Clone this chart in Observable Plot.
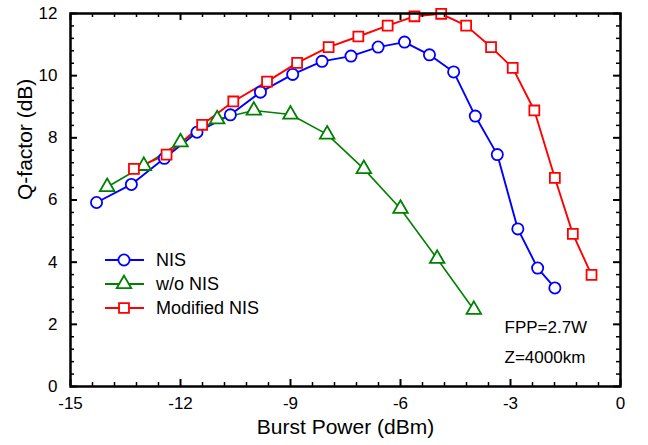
<!DOCTYPE html>
<html><head><meta charset="utf-8">
<script src="https://cdn.jsdelivr.net/npm/d3@7"></script>
<script src="https://cdn.jsdelivr.net/npm/@observablehq/plot@0.6"></script>
<style>
body{margin:0;background:#fff;font-family:"Liberation Sans",Arial,sans-serif}
#wrap{position:relative;width:648px;height:445px}
</style>
</head><body><div id="wrap"></div>
<script>
// Data
const nisX = [-14.29, -13.34, -12.44, -11.55, -10.64, -9.82, -8.94, -8.14, -7.35, -6.61, -5.89, -5.21, -4.55, -3.96, -3.36, -2.80, -2.26, -1.79];
const nisY = [5.92, 6.50, 7.34, 8.18, 8.74, 9.47, 10.04, 10.46, 10.63, 10.92, 11.08, 10.67, 10.12, 8.70, 7.46, 5.07, 3.81, 3.17];
const woX = [-14, -13, -12, -11, -10, -9, -8, -7, -6, -5, -4];
const woY = [6.42, 7.10, 7.86, 8.60, 8.88, 8.75, 8.11, 7.00, 5.72, 4.11, 2.47];
const modX = [-13.27, -12.38, -11.41, -10.56, -9.64, -8.82, -7.96, -7.15, -6.35, -5.62, -4.89, -4.21, -3.53, -2.94, -2.35, -1.79, -1.30, -0.79];
const modY = [7.00, 7.46, 8.42, 9.17, 9.81, 10.41, 10.92, 11.26, 11.61, 11.91, 11.99, 11.61, 10.92, 10.25, 8.88, 6.71, 4.91, 3.59];

const seriesNames = ["NIS", "w/o NIS", "Modified NIS"];
const seriesColors = ["#0000ff", "#008000", "#ff0000"];
const seriesSymbols = ["circle", "triangle", "square"];

const xTicks = [-15, -12, -9, -6, -3, 0];
const yTicks = [0, 2, 4, 6, 8, 10, 12];
const xMinor = [-14.4, -13.8, -13.2, -12.6, -11.4, -10.8, -10.2, -9.6, -8.4, -7.8, -7.2, -6.6, -5.4, -4.8, -4.2, -3.6, -2.4, -1.8, -1.2, -0.6];
const yMinor = [0.4, 0.8, 1.2, 1.6, 2.4, 2.8, 3.2, 3.6, 4.4, 4.8, 5.2, 5.6, 6.4, 6.8, 7.2, 7.6, 8.4, 8.8, 9.2, 9.6, 10.4, 10.8, 11.2, 11.6];
const note1 = "FPP=2.7W";
const note2 = "Z=4000km";

const toRows = (xs, ys) => xs.map((x, i) => ({x, y: ys[i]}));
const series = [toRows(nisX, nisY), toRows(woX, woY), toRows(modX, modY)];

const W = 648, H = 445, mL = 70, mR = 28, mT = 13, mB = 59;
const ph = H - mT - mB, pw = W - mL - mR;

const marks = [];
series.forEach((rows, i) => {
  marks.push(Plot.line(rows, {x: "x", y: "y", stroke: seriesColors[i], strokeWidth: i === 1 ? 1.6 : 1.9}));
});
const markerR = [5.6, 5.4, 5.6];
series.forEach((rows, i) => {
  marks.push(Plot.dot(rows, {x: "x", y: "y", symbol: () => seriesSymbols[i], r: markerR[i], stroke: seriesColors[i], fill: "white", strokeWidth: 1.8}));
});
marks.push(Plot.frame({stroke: "black", strokeWidth: 2.5}));
marks.push(Plot.tickX(xTicks, {x: d => d, insetTop: ph - 7, stroke: "black", strokeWidth: 2}));
marks.push(Plot.tickX(xTicks, {x: d => d, insetBottom: ph - 7, stroke: "black", strokeWidth: 2}));
marks.push(Plot.tickX(xMinor, {x: d => d, insetTop: ph - 4, stroke: "black", strokeWidth: 1.5}));
marks.push(Plot.tickX(xMinor, {x: d => d, insetBottom: ph - 4, stroke: "black", strokeWidth: 1.5}));
marks.push(Plot.tickY(yTicks, {y: d => d, insetRight: pw - 7, stroke: "black", strokeWidth: 2}));
marks.push(Plot.tickY(yTicks, {y: d => d, insetLeft: pw - 7, stroke: "black", strokeWidth: 2}));
marks.push(Plot.tickY(yMinor, {y: d => d, insetRight: pw - 4, stroke: "black", strokeWidth: 1.5}));
marks.push(Plot.tickY(yMinor, {y: d => d, insetLeft: pw - 4, stroke: "black", strokeWidth: 1.5}));
marks.push(Plot.axisX({ticks: xTicks, tickSize: 0, tickPadding: 10, fontSize: 17, label: null, tickFormat: d => String(d)}));
marks.push(Plot.axisY({ticks: yTicks, tickSize: 0, tickPadding: 13, fontSize: 17, label: null, tickFormat: d => String(d)}));
marks.push(Plot.text(["Burst Power (dBm)"], {text: d => d, frameAnchor: "bottom", dy: 41, fontSize: 21, lineAnchor: "middle", fill: "black"}));
marks.push(Plot.text(["Q-factor (dB)"], {text: d => d, frameAnchor: "left", dx: -45, rotate: -90, fontSize: 21, lineAnchor: "middle", fill: "black"}));
marks.push(Plot.text([note1], {text: d => d, frameAnchor: "bottom-right", textAnchor: "start", dx: -116, dy: -59, fontSize: 17, lineAnchor: "middle", fill: "black"}));
marks.push(Plot.text([note2], {text: d => d, frameAnchor: "bottom-right", textAnchor: "start", dx: -116, dy: -29, fontSize: 17, lineAnchor: "middle", fill: "black"}));

const chart = Plot.plot({
  width: W, height: H,
  marginLeft: mL, marginRight: mR, marginTop: mT, marginBottom: mB,
  style: {fontFamily: "Liberation Sans, Arial, sans-serif", background: "white", color: "black"},
  x: {domain: [-15, 0]},
  y: {domain: [0, 12]},
  marks
});

// legend drawn into the same svg
const svg = d3.select(chart);
const lg = svg.append("g").attr("font-family", "Liberation Sans, Arial, sans-serif").attr("font-size", 18).attr("text-anchor", "start");
seriesNames.forEach((name, i) => {
  const cy = 260 + i * 24;
  lg.append("line").attr("x1", 105).attr("x2", 144).attr("y1", cy).attr("y2", cy)
    .attr("stroke", seriesColors[i]).attr("stroke-width", 1.9);
  const size = Math.PI * markerR[i] * markerR[i];
  const sym = {circle: d3.symbolCircle, triangle: d3.symbolTriangle, square: d3.symbolSquare}[seriesSymbols[i]];
  lg.append("path").attr("d", d3.symbol(sym, size)()).attr("transform", `translate(124,${cy})`)
    .attr("fill", "white").attr("stroke", seriesColors[i]).attr("stroke-width", 1.8);
  lg.append("text").attr("x", 156).attr("y", cy).attr("dy", "0.35em").attr("text-anchor", "start").attr("fill", "black").text(name);
});

document.getElementById("wrap").appendChild(chart);
</script>
</body></html>
